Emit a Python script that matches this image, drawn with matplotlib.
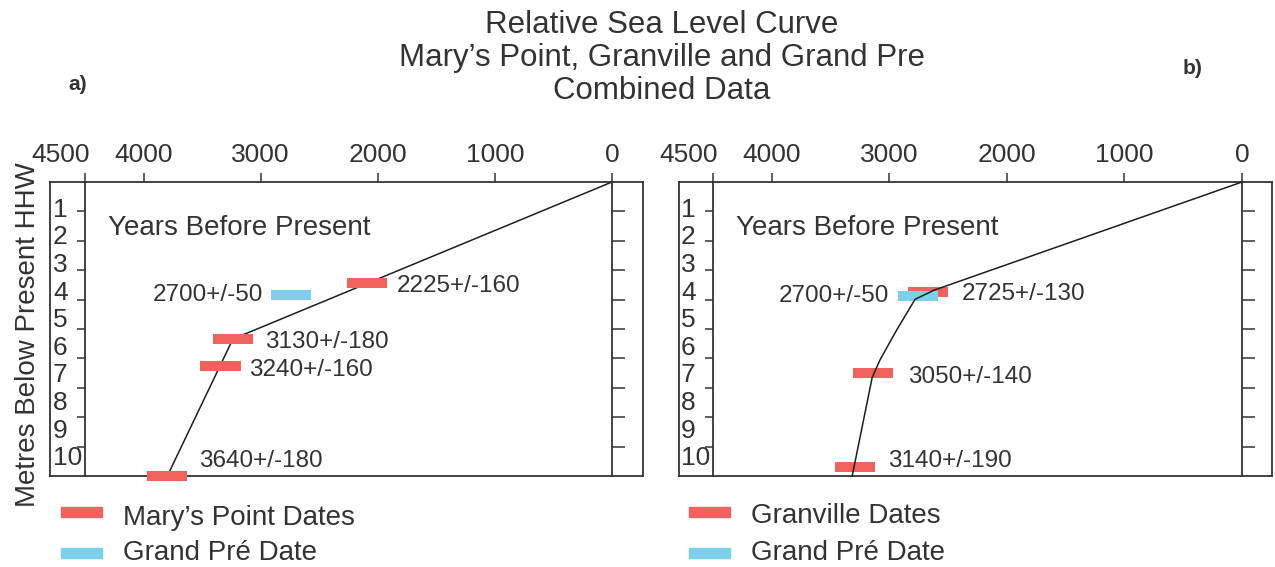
import matplotlib
matplotlib.use("Agg")
import matplotlib.pyplot as plt
import matplotlib.transforms as mtransforms
from matplotlib.patches import Rectangle

plt.rcParams['font.family'] = ['Liberation Sans', 'DejaVu Sans']

# ---- data (years before present, metres below HHW) ----
# panel a) Mary's Point
a_red_age = [2092, 3237, 3343, 3797]
a_red_depth = [3.45, 5.34, 6.26, 10.0]
a_red_lab = ['2225+/-160', '3130+/-180', '3240+/-160', '3640+/-180']
a_blue_age = [2737]
a_blue_depth = [3.86]
a_blue_lab = ['2700+/-50']
a_curve_age = [0, 3237, 3797]
a_curve_depth = [0, 5.34, 10.0]

# panel b) Granville
b_red_age = [2674, 3142, 3295]
b_red_depth = [3.75, 6.48, 9.69]
b_red_lab = ['2725+/-130', '3050+/-140', '3140+/-190']
b_blue_age = [2759]
b_blue_depth = [3.89]
b_blue_lab = ['2700+/-50']
b_curve_age = [0, 2620, 2781, 2934, 3078, 3146, 3316]
b_curve_depth = [0, 3.68, 3.99, 5.01, 6.04, 6.65, 10.0]

x_ticks = [4500, 4000, 3000, 2000, 1000, 0]
y_ticks = [1, 2, 3, 4, 5, 6, 7, 8, 9]
y_labels = ['1', '2', '3', '4', '5', '6', '7', '8', '9', '10']

# label offsets in pixels (dx from bar end, dy downwards)
a_red_off = [(10, 3), (12, 3.5), (9, 3.5), (12, -15)]
b_red_off = [(14, 2), (15, 4), (13, -5.5)]

RED = '#EF625E'
BLUE = '#7ECFEC'
INK = '#333333'
BAR_W = 342     # years
BAR_H = 0.34    # metres

W, H = 1275, 567
fig = plt.figure(figsize=(W / 100, H / 100), dpi=100)


def px(x0, y0, x1, y1):
    return [x0 / W, 1 - y1 / H, (x1 - x0) / W, (y1 - y0) / H]


def panel(outer_box, inner_box, red_age, red_depth, red_lab, red_off,
          blue_age, blue_depth, blue_lab, c_age, c_depth, line_top):
    outer = fig.add_axes(px(*outer_box))
    outer.set_xticks([])
    outer.set_yticks([])
    for s in outer.spines.values():
        s.set_color(INK)
        s.set_linewidth(1.3)

    ax = fig.add_axes(px(*inner_box))
    ax.patch.set_alpha(0)
    ax.set_xlim(4500, 0)
    ax.set_ylim(10, 0)
    ax.spines['top'].set_visible(False)
    ax.spines['bottom'].set_visible(False)
    for s in ['left', 'right']:
        ax.spines[s].set_color(INK)
        ax.spines[s].set_linewidth(1.3)

    ax.xaxis.tick_top()
    ax.set_xticks(x_ticks)
    ax.set_xticklabels([str(v) for v in x_ticks])
    ax.tick_params(axis='x', direction='out', length=6.5, width=1.1,
                   colors=INK, labelsize=19, pad=4)
    shift = mtransforms.ScaledTranslation(-0.24, 0, fig.dpi_scale_trans)
    lab0 = ax.get_xticklabels()[0]
    lab0.set_transform(lab0.get_transform() + shift)

    ax.set_yticks(y_ticks)
    ax.set_yticklabels([])
    ax.tick_params(axis='y', which='both', left=True, right=True,
                   direction='out', length=6, width=1.1, colors=INK)
    # right ticks are longer
    for t in ax.yaxis.get_major_ticks():
        t.tick2line.set_markersize(9.5)

    trans = mtransforms.blended_transform_factory(ax.transAxes, ax.transData)
    for i, lab in enumerate(y_labels):
        ax.text(-32 / (inner_box[2] - inner_box[0]), (i + 1) * 0.94, lab,
                transform=trans, ha='left', va='center', fontsize=19,
                color=INK)

    ax.text(0.044, 1.55, 'Years Before Present', transform=trans,
            ha='left', va='center', fontsize=20, color=INK)

    ax.plot(c_age, c_depth, color='#1e1e1e', lw=1.1,
            zorder=4 if line_top else 2, clip_on=False)

    bars = ax.barh(red_depth, BAR_W, height=BAR_H,
                   left=[a - BAR_W / 2 for a in red_age], color=RED, zorder=3)
    for b in bars:
        b.set_clip_on(False)
    bars = ax.barh(blue_depth, BAR_W, height=BAR_H,
                   left=[a - BAR_W / 2 for a in blue_age], color=BLUE,
                   zorder=3.5)

    for a, d, t, (dx, dy) in zip(red_age, red_depth, red_lab, red_off):
        ax.annotate(t, xy=(a - BAR_W / 2, d), xytext=(dx * 0.72, -dy * 0.72),
                    textcoords='offset points', ha='left', va='center',
                    fontsize=17.5, color=INK)
    for a, d, t in zip(blue_age, blue_depth, blue_lab):
        ax.annotate(t, xy=(a + BAR_W / 2, d), xytext=(-8 * 0.72, 0),
                    textcoords='offset points', ha='right', va='center',
                    fontsize=17.5, color=INK)
    return ax


panel((50, 182, 643, 476), (85, 182, 612, 476),
      a_red_age, a_red_depth, a_red_lab, a_red_off,
      a_blue_age, a_blue_depth, a_blue_lab, a_curve_age, a_curve_depth, False)
panel((679, 182, 1272, 476), (713, 182, 1242, 476),
      b_red_age, b_red_depth, b_red_lab, b_red_off,
      b_blue_age, b_blue_depth, b_blue_lab, b_curve_age, b_curve_depth, True)

# title and panel letters
fig.text(662 / W, 1 - 58 / H,
         'Relative Sea Level Curve\nMary\u2019s Point, Granville and Grand Pre\nCombined Data',
         ha='center', va='center', fontsize=22.5, color=INK, linespacing=1.12)
fig.text(78 / W, 1 - 85 / H, 'a)', ha='center', va='center', fontsize=15,
         fontweight='bold', color=INK)
fig.text(1193 / W, 1 - 68 / H, 'b)', ha='center', va='center', fontsize=15,
         fontweight='bold', color=INK)
fig.text(28 / W, 1 - 335 / H, 'Metres Below Present HHW', rotation=90,
         ha='center', va='center', fontsize=20, color=INK)

# legends drawn by hand
legend_items = [
    (61, 512, RED, "Mary\u2019s Point Dates", 525),
    (61, 553, BLUE, "Grand Pr\u00e9 Date", 560),
    (689, 512, RED, "Granville Dates", 523),
    (689, 553, BLUE, "Grand Pr\u00e9 Date", 560),
]
for x0, yc, col, txt, base in legend_items:
    fig.add_artist(Rectangle((x0 / W, 1 - (yc + 5) / H), 41 / W, 10 / H,
                             transform=fig.transFigure, color=col))
    fig.text((x0 + 62) / W, 1 - base / H, txt, ha='left', va='baseline',
             fontsize=20, color=INK)

fig.savefig('out.png', dpi=100)
